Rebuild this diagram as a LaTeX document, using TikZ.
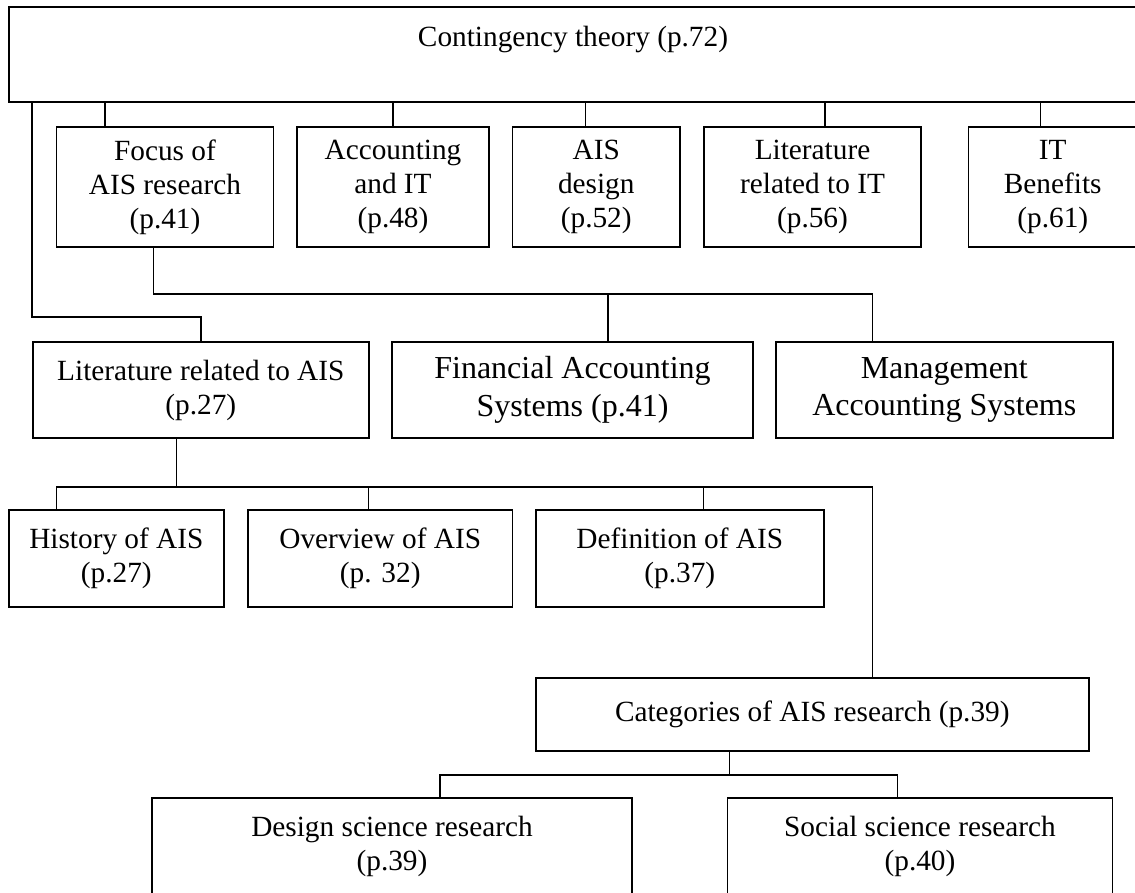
\documentclass[tikz,border=0pt]{standalone}
\usepackage{fontspec}
\setmainfont{Liberation Serif}

\begin{document}
\begin{tikzpicture}[x=1pt,y=-1pt,
  box/.style={draw,line width=1.9pt,rectangle,align=center,inner sep=0pt,
    font=\fontsize{29.3}{34}\selectfont},
  bigbox/.style={box,font=\fontsize{32}{37.5}\selectfont},
  link/.style={line width=1.2pt}]
\useasboundingbox (0,0) rectangle (1135,892);

\node[box,minimum width=1128pt,minimum height=95pt] (top) at (573,54.5) {Contingency theory (p.72)\\[2pt]\mbox{}};

\node[box,minimum width=217pt,minimum height=120pt] (focus) at (165,187) {Focus of\\AIS research\\(p.41)};
\node[box,minimum width=192pt,minimum height=120pt] (acct) at (393,187) {Accounting\\and IT\\(p.48)};
\node[box,minimum width=167.5pt,minimum height=120pt] (aisdes) at (596.25,187) {AIS\\design\\(p.52)};
\node[box,minimum width=217pt,minimum height=120pt] (litit) at (812.5,187) {Literature\\related to IT\\(p.56)};
\node[box,minimum width=168.5pt,minimum height=120pt] (benef) at (1052.75,187) {IT\\Benefits\\(p.61)};

\node[box,minimum width=336.4pt,minimum height=96pt] (litais) at (200.8,390) {Literature related to AIS\\(p.27)};
\node[bigbox,minimum width=361pt,minimum height=96pt] (fas) at (572.5,390) {Financial Accounting\\Systems (p.41)};
\node[bigbox,minimum width=336.6pt,minimum height=96pt] (mgmt) at (944.3,390) {Management\\Accounting Systems};

\node[box,minimum width=215.3pt,minimum height=97pt] (hist) at (116.35,558.5) {History of AIS\\(p.27)};
\node[box,minimum width=264.5pt,minimum height=97pt] (overv) at (380.25,558.5) {Overview of AIS\\(p. 32)};
\node[box,minimum width=288.4pt,minimum height=97pt] (defn) at (679.8,558.5) {Definition of AIS\\(p.37)};

\node[box,minimum width=553.4pt,minimum height=73pt] (categ) at (812.3,714.5) {\raisebox{5pt}{Categories of AIS research (p.39)}};

\node[box,minimum width=480pt,minimum height=96pt] (dsr) at (392,846) {Design science research\\(p.39)};
\node[box,minimum width=385pt,minimum height=96pt] (ssr) at (920,846) {Social science research\\(p.40)};

\coordinate (busA) at (0,294);
\coordinate (busB) at (0,487);
\coordinate (busC) at (0,775);

\foreach \n/\dx in {focus/-60,acct/0,aisdes/-11,litit/12.5,benef/-12}
  \draw[link] ([xshift=\dx pt]\n.north) -- ([xshift=\dx pt]\n.north |- top.south);
\draw[link,line width=1.8pt] ([xshift=24pt]top.south west) |- ([yshift=24pt]litais.north) -- (litais.north);

\draw[link] ([xshift=-11.5pt]focus.south) |- ([xshift=-72pt]mgmt.north |- busA) -- ([xshift=-72pt]mgmt.north);
\draw[link] ([xshift=35.5pt]fas.north) -- ([xshift=35.5pt]fas.north |- busA);

\draw[link] ([xshift=-24pt]litais.south) -- ([xshift=-24pt]litais.south |- busB);
\draw[link] ([xshift=-60pt]hist.north) |- ([xshift=60pt]categ.north |- busB) -- ([xshift=60pt]categ.north);
\foreach \n/\dx in {overv/-12,defn/24}
  \draw[link] ([xshift=\dx pt]\n.north) -- ([xshift=\dx pt]\n.north |- busB);

\draw[link] ([xshift=-83pt]categ.south) -- ([xshift=-83pt]categ.south |- busC);
\draw[link] ([xshift=48pt]dsr.north) |- ([xshift=-22.5pt]ssr.north |- busC) -- ([xshift=-22.5pt]ssr.north);
\end{tikzpicture}
\end{document}
